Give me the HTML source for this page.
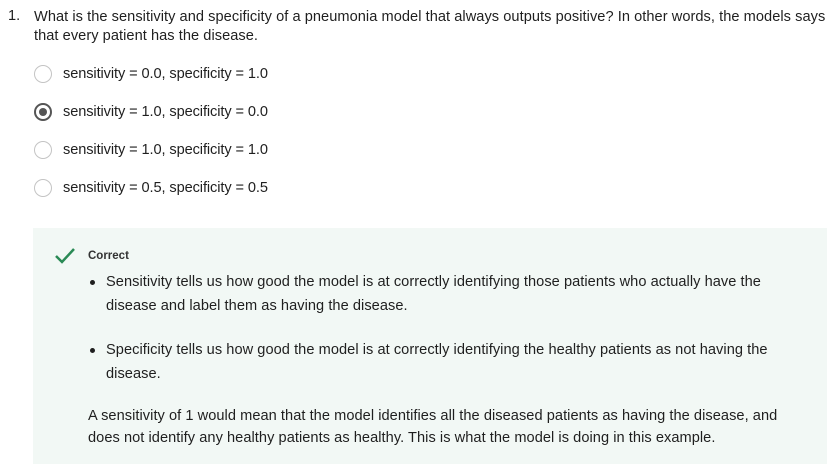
<!DOCTYPE html>
<html><head><meta charset="utf-8"><style>
body{margin:0;width:827px;height:465px;background:#fff;font-family:"Liberation Sans",sans-serif;color:#1f1f1f;position:relative;overflow:hidden}
.t{position:absolute;white-space:nowrap;font-size:14.6px;line-height:16px;letter-spacing:0.05px}
.radio{position:absolute;width:18px;height:18px;border:1.5px solid #c4c4c4;border-radius:50%;box-sizing:border-box;left:34px}
.radio.sel{border:2px solid #555}
.radio.sel::after{content:"";position:absolute;left:3px;top:3px;width:8px;height:8px;border-radius:50%;background:#555}
.box{position:absolute;left:33px;top:228px;width:794px;height:236px;background:#f2f8f5}
.b{position:absolute;width:5px;height:5px;border-radius:50%;background:#1f1f1f;left:90px}
</style></head><body>
<div class="t" style="left:8px;top:8px">1.</div>
<div class="t" style="left:34px;top:8px;line-height:19px">What is the sensitivity and specificity of a pneumonia model that always outputs positive? In other words, the models says<br>that every patient has the disease.</div>

<div class="radio" style="top:65px"></div>
<div class="t" style="left:63px;top:66px;letter-spacing:-0.1px">sensitivity = 0.0, specificity = 1.0</div>
<div class="radio sel" style="top:103px"></div>
<div class="t" style="left:63px;top:104px;letter-spacing:-0.1px">sensitivity = 1.0, specificity = 0.0</div>
<div class="radio" style="top:141px"></div>
<div class="t" style="left:63px;top:142px;letter-spacing:-0.1px">sensitivity = 1.0, specificity = 1.0</div>
<div class="radio" style="top:179px"></div>
<div class="t" style="left:63px;top:180px;letter-spacing:-0.1px">sensitivity = 0.5, specificity = 0.5</div>

<div class="box"></div>
<svg style="position:absolute;left:54px;top:247px" width="22" height="18"><path d="M2 9 L8 15 L20 2" stroke="#2a8a55" stroke-width="2.5" fill="none"/></svg>
<div class="t" style="left:88px;top:248px;font-size:11.5px;font-weight:bold;color:#333;letter-spacing:0">Correct</div>
<div class="b" style="top:280px"></div>
<div class="t" style="left:106px;top:270px;line-height:24px">Sensitivity tells us how good the model is at correctly identifying those patients who actually have the<br>disease and label them as having the disease.</div>
<div class="b" style="top:348px"></div>
<div class="t" style="left:106px;top:338px;line-height:24px">Specificity tells us how good the model is at correctly identifying the healthy patients as not having the<br>disease.</div>
<div class="t" style="left:88px;top:405px;line-height:22px">A sensitivity of 1 would mean that the model identifies all the diseased patients as having the disease, and<br>does not identify any healthy patients as healthy. This is what the model is doing in this example.</div>
</body></html>
